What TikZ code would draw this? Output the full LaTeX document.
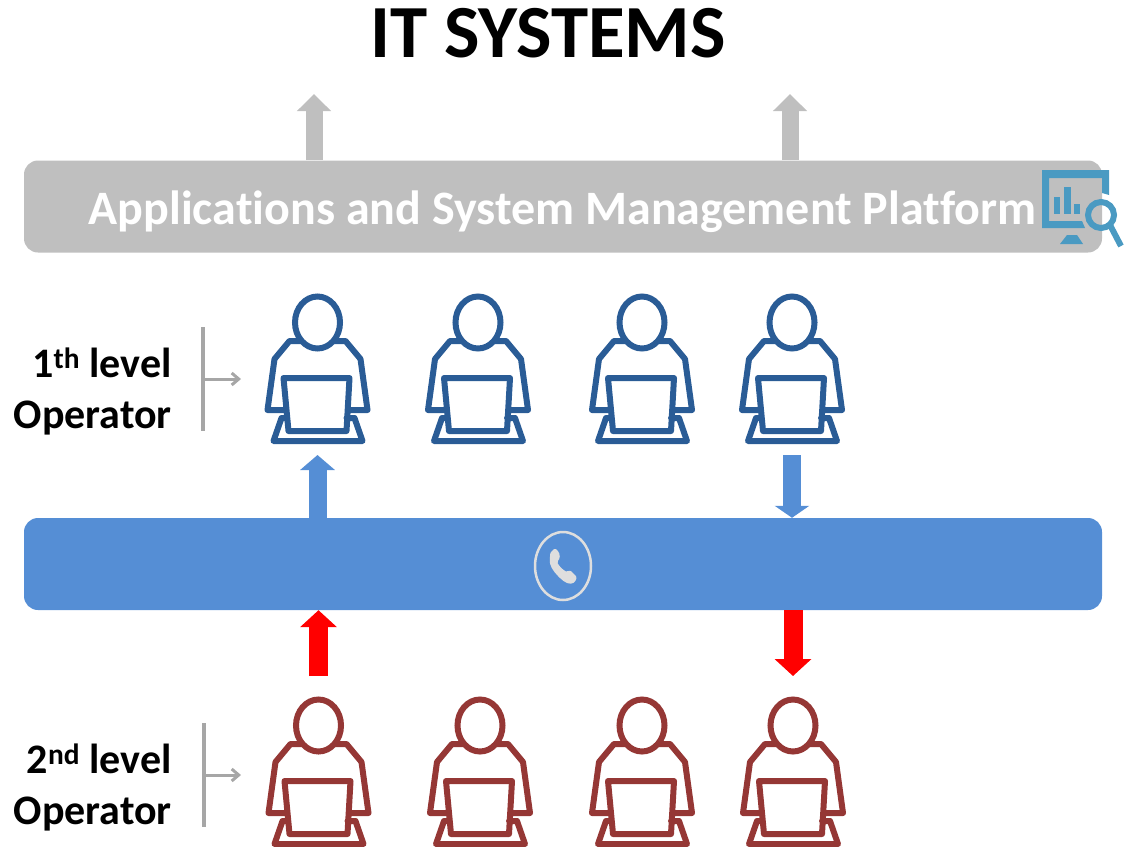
\documentclass[tikz,border=0pt]{standalone}
\usepackage{fontspec}
\setmainfont{Carlito}[Ligatures=NoCommon]
\usetikzlibrary{
	arrows.meta,
	positioning
}
\definecolor{barGray}{HTML}{BFBFBF}
\definecolor{barBlue}{HTML}{558ED5}
\definecolor{firstLevel}{HTML}{2A5C96}
\definecolor{secondLevel}{HTML}{953735}
\definecolor{iconBlue}{HTML}{4A9AC2}
\definecolor{phoneGray}{HTML}{DEDEDE}
\tikzset{
	person/.pic={
		\coordinate (-head) at (0,-47.5);
		\draw[line width=6pt, line join=round, line cap=round, pic actions]
			(-50,40) -- (-43,-11) -- (-28,-29) -- (-16,-29)
			(28,-29) -- (16,-29)
			(50,40) -- (43,-11) -- (28,-29)
			(-50,40) -- (-33,40) (32,40) -- (50,40)
			(-34,8) -- (32,8) -- (29,61) -- (-29,61) -- cycle
			(-36,48) -- (-44,71) -- (45,71) -- (37,48) -- (29,48)
			(-36,48) -- (-31,48);
		\draw[line width=6pt, pic actions] (-head) ellipse (22.5 and 26);
		\coordinate (-foot) at (0,85);
		\coordinate (-top) at (0,-97);
	}
}
\begin{document}
\begin{tikzpicture}[x=1pt, y=-1pt,
	bar/.style={rounded corners=14pt, minimum width=1078pt, minimum height=92pt, inner sep=0pt},
	uparrow/.style={line width=17pt, -{Triangle[length=17pt, width=33pt]}},
	levelline/.style={draw=gray!70, line width=4pt},
	levelarrow/.style={draw=gray!70, line width=3pt, -{Straight Barb[length=7pt, width=12pt]}},
	levellabel/.style={align=right, inner sep=0pt, yshift=-12pt, font=\fontsize{42}{51}\selectfont\bfseries}]
	\useasboundingbox (0,0) rectangle (1124,846);
	\node[font=\fontsize{75}{80}\selectfont\bfseries] (title) at (548,33) {IT SYSTEMS};
%
	\node[bar, fill=barGray] (platform) at (563,206.5) {};
	\node[text=white, font=\fontsize{48}{54}\selectfont\bfseries] (platformlab) at (562.5,212) {Applications and System Management Platform};
	\node[bar, fill=barBlue] (phone) at (563,564) {};
%
	\coordinate (upa) at (314,94);
	\coordinate (upb) at (790,94);
	\draw[uparrow, draw=barGray, fill=barGray] (platform.north -| upa) -- (upa);
	\draw[uparrow, draw=barGray, fill=barGray] (platform.north -| upb) -- (upb);
%
	\pic[draw=firstLevel] (Fa) at (317.5,370) {person};
	\pic[draw=firstLevel] (Fb) at (478,370) {person};
	\pic[draw=firstLevel] (Fc) at (642,370) {person};
	\pic[draw=firstLevel] (Fd) at (792,370) {person};
%
	\pic[draw=secondLevel] (Sa) at (318.5,773) {person};
	\pic[draw=secondLevel] (Sb) at (480,773) {person};
	\pic[draw=secondLevel] (Sc) at (642,773) {person};
	\pic[draw=secondLevel] (Sd) at (793,773) {person};
%
	\draw[barBlue, line width=18pt, -{Triangle[length=15pt, width=34pt]}] (phone.north -| Fa-foot) -- (Fa-foot);
	\draw[barBlue, line width=18pt, -{Triangle[length=12pt, width=34pt]}] (Fd-foot) -- (phone.north -| Fd-foot);
	\draw[red, line width=19pt, -{Triangle[length=17pt, width=36pt]}] (Sa-top) -- (phone.south -| Sa-top);
	\draw[red, line width=19pt, -{Triangle[length=17pt, width=36pt]}] (phone.south -| Sd-top) -- (Sd-top);
%
	\coordinate (Ftop) at (203,327);
	\coordinate (Fbot) at (203,431);
	\coordinate (Fmid) at (203,379);
	\coordinate (Fend) at (241,379);
	\draw[levelline] (Ftop) -- (Fbot);
	\draw[levelarrow] (Fmid) -- (Fend);
	\node[levellabel, left=31pt of Fmid] (Flab) {1\textsuperscript{th} level\\Operator};
%
	\coordinate (Stop) at (204,723);
	\coordinate (Sbot) at (204,827);
	\coordinate (Smid) at (204,775);
	\coordinate (Send) at (241,775);
	\draw[levelline] (Stop) -- (Sbot);
	\draw[levelarrow] (Smid) -- (Send);
	\node[levellabel, left=32pt of Smid] (Slab) {2\textsuperscript{nd} level\\Operator};
%
	\draw[phoneGray, line width=2.5pt] (563,566) ellipse (28 and 34);
	\fill[phoneGray, rounded corners=1.5pt] (555,548) -- (559,552) -- (560,558) -- (557,562)
		.. controls (559,566) and (563,570) .. (567,572) -- (570,570) -- (577,577) -- (575,582)
		.. controls (570,585) and (565,583) .. (559,577) .. controls (553,571) and (549,565) .. (550,558)
		-- (550,553) -- cycle;
%
	\fill[iconBlue] (1042,170) -- (1109,170) -- (1109,195) -- (1102,193) -- (1102,178)
		-- (1049,178) -- (1049,221) -- (1082,221) -- (1085,228) -- (1042,228) -- cycle;
	\fill[iconBlue] (1054,197) rectangle (1060,214);
	\fill[iconBlue] (1064,187) rectangle (1071,214);
	\fill[iconBlue] (1074,204) rectangle (1080,214);
	\fill[iconBlue] (1060,244) -- (1083,244) -- (1077,235) -- (1067,235) -- cycle;
	\draw[iconBlue, line width=6pt] (1101,215) circle (13);
	\draw[iconBlue, line width=6pt] (1110,225) -- (1121,246);
\end{tikzpicture}
\end{document}
